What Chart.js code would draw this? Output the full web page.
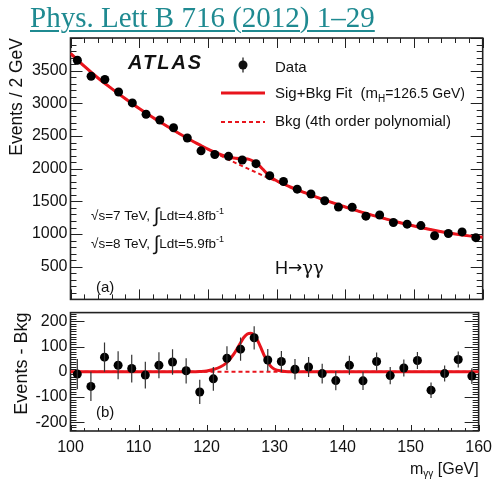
<!DOCTYPE html>
<html>
<head>
<meta charset="utf-8">
<script src="https://cdn.jsdelivr.net/npm/chart.js@4.4.1/dist/chart.umd.min.js"></script>
<style>
  body { margin: 0; background: #fff; width: 499px; height: 479px; overflow: hidden; position: relative; }
  #ref { position: absolute; left: 30px; top: 3px; font: 29px/29px "Liberation Serif", "Times New Roman", serif;
         color: #1f8a91; text-decoration: underline; text-decoration-thickness: 2px; text-underline-offset: 3px; white-space: nowrap; }
  #topChart { position: absolute; left: 0; top: 0; }
  #bottomChart { position: absolute; left: 0; top: 300px; }
</style>
</head>
<body>
<canvas id="topChart" width="499" height="312"></canvas>
<canvas id="bottomChart" width="499" height="179"></canvas>
<div id="ref">Phys. Lett B 716 (2012) 1–29</div>
<script>
const massBins = [101, 103, 105, 107, 109, 111, 113, 115, 117, 119, 121, 123, 125, 127, 129,
                  131, 133, 135, 137, 139, 141, 143, 145, 147, 149, 151, 153, 155, 157, 159];
const eventCounts = [3660, 3414, 3365, 3173, 3007, 2834, 2745, 2627, 2469, 2273, 2218, 2189, 2133, 2077, 1894,
                     1805, 1687, 1613, 1510, 1413, 1410, 1274, 1292, 1176, 1151, 1129, 974, 1008, 1033, 945];
const eventErrors = [60, 58, 58, 56, 55, 53, 52, 51, 50, 48, 47, 47, 46, 46, 44,
                     42, 41, 40, 39, 38, 38, 36, 36, 34, 34, 34, 31, 32, 32, 31];
const residuals = [-9, -58, 58, 26, 13, -13, 26, 39, 4, -80, -28, 54, 90, 135, 47,
                   41, 10, 19, -7, -35, 26, -36, 41, -15, 15, 45, -73, -7, 49, -17];

// background fit (4th order polynomial)
const bkgMass = [100, 102, 104, 106, 108, 110, 112, 114, 116, 118, 120, 122, 124, 126, 128, 130,
                 132, 134, 136, 138, 140, 142, 144, 146, 148, 150, 152, 154, 156, 158, 160];
const bkgValues = [3765, 3568, 3388, 3226, 3070, 2920, 2782, 2652, 2526, 2408, 2298, 2192, 2090, 1992, 1896, 1806,
                   1720, 1637, 1558, 1484, 1414, 1348, 1286, 1228, 1174, 1124, 1078, 1036, 1000, 972, 952];

// signal + background fit
const fitMass = [100, 102, 104, 106, 108, 110, 112, 114, 116, 118, 119, 120, 121, 122, 123, 124, 125, 125.5,
                 126, 126.5, 127, 127.5, 128, 128.5, 129, 129.5, 130, 131, 132, 134, 136, 138, 140, 142,
                 144, 146, 148, 150, 152, 154, 156, 158, 160];
const fitValues = [3765, 3568, 3388, 3226, 3070, 2920, 2782, 2652, 2526, 2408, 2354, 2301, 2254, 2211, 2178, 2160, 2156, 2153,
                   2142, 2121, 2089, 2044, 1991, 1936, 1889, 1848, 1816, 1766, 1720, 1637, 1558, 1484, 1414, 1348,
                   1286, 1228, 1174, 1124, 1078, 1036, 1000, 972, 952];

// signal component shown in the lower panel
const sigMass = [100, 118, 119, 120, 121, 122, 123, 124, 125, 125.5, 126, 126.5, 127, 127.5, 128, 128.5,
                 129, 129.5, 130, 131, 132, 134, 160];
const sigValues = [0, 0, 1, 3, 9, 19, 37, 70, 115, 137, 150, 153, 145, 124, 95, 63,
                   38, 20, 10, 3, 0, 0, 0];

const topTicks = [500, 1000, 1500, 2000, 2500, 3000, 3500];
const bottomTicks = [-200, -100, 0, 100, 200];
const massTicks = [100, 110, 120, 130, 140, 150, 160];

const FONT = '"Liberation Sans", Arial, sans-serif';
const RED = '#e8141c';

const pts = (xs, ys) => xs.map((x, i) => ({ x, y: ys[i] }));

function drawRuns(ctx, x, y, runs) {
  for (const [text, size, dy, style, family] of runs) {
    ctx.font = `${style || ''} ${size}px ${family || FONT}`;
    ctx.fillText(text, x, y + (dy || 0));
    x += ctx.measureText(text).width;
  }
  return x;
}

function runsWidth(ctx, runs) {
  let w = 0;
  for (const [text, size, , style, family] of runs) {
    ctx.font = `${style || ''} ${size}px ${family || FONT}`;
    w += ctx.measureText(text).width;
  }
  return w;
}

// ROOT-like frame with inward ticks
const frameTicks = {
  id: 'frameTicks',
  beforeDatasetsDraw(chart, args, o) {
    const { ctx, chartArea: a, scales: { x, y } } = chart;
    ctx.save();
    ctx.strokeStyle = '#222';
    ctx.lineWidth = 1;
    ctx.beginPath();
    for (let k = Math.ceil(x.min / o.xMinor); k * o.xMinor <= x.max + 1e-9; k++) {
      const v = k * o.xMinor, px = Math.round(x.getPixelForValue(v)) + 0.5;
      const len = Math.abs(v / o.xMajor - Math.round(v / o.xMajor)) < 1e-6 ? o.xMajLen : o.xMinLen;
      if (o.topEdge) { ctx.moveTo(px, a.top); ctx.lineTo(px, a.top + len); }
      ctx.moveTo(px, a.bottom); ctx.lineTo(px, a.bottom - len);
    }
    for (let k = Math.ceil(y.min / o.yMinor); k * o.yMinor <= y.max + 1e-9; k++) {
      const v = k * o.yMinor, py = Math.round(y.getPixelForValue(v)) + 0.5;
      const len = Math.abs(v / o.yMajor - Math.round(v / o.yMajor)) < 1e-6 ? o.yMajLen : o.yMinLen;
      ctx.moveTo(a.left, py); ctx.lineTo(a.left + len, py);
      ctx.moveTo(a.right, py); ctx.lineTo(a.right - len, py);
    }
    ctx.stroke();
    ctx.lineWidth = 1.6;
    ctx.strokeRect(a.left, a.top, a.right - a.left, a.bottom - a.top);
    ctx.restore();
  }
};

const errorBars = {
  id: 'errorBars',
  afterDatasetsDraw(chart, args, o) {
    const { ctx, scales: { x, y } } = chart;
    ctx.save();
    ctx.strokeStyle = o.color;
    ctx.lineWidth = 1.2;
    ctx.beginPath();
    o.values.forEach((v, i) => {
      const px = x.getPixelForValue(massBins[i]);
      ctx.moveTo(px, y.getPixelForValue(v - eventErrors[i]));
      ctx.lineTo(px, y.getPixelForValue(v + eventErrors[i]));
    });
    ctx.stroke();
    ctx.restore();
  }
};

const topNotes = {
  id: 'topNotes',
  afterDraw(chart) {
    const ctx = chart.ctx;
    ctx.save();
    ctx.fillStyle = '#111';
    ctx.textBaseline = 'alphabetic';
    ctx.textAlign = 'left';
    ctx.letterSpacing = '2px';
    drawRuns(ctx, 128, 68.5, [['ATLAS', 20, 0, 'italic bold']]);
    ctx.letterSpacing = '0px';

    // legend
    ctx.beginPath();
    ctx.arc(243, 65, 4.5, 0, Math.PI * 2);
    ctx.fill();
    ctx.strokeStyle = '#111';
    ctx.lineWidth = 1.2;
    ctx.beginPath();
    ctx.moveTo(243, 57.5); ctx.lineTo(243, 72.5);
    ctx.stroke();
    drawRuns(ctx, 275, 71.5, [['Data', 15]]);

    ctx.strokeStyle = RED;
    ctx.lineWidth = 3;
    ctx.beginPath();
    ctx.moveTo(221, 93); ctx.lineTo(265, 93);
    ctx.stroke();
    drawRuns(ctx, 275, 97.5, [['Sig+Bkg Fit  (m', 15], ['H', 10, 4], ['=126.5 GeV)', 14]]);

    ctx.lineWidth = 2;
    ctx.setLineDash([4, 3]);
    ctx.beginPath();
    ctx.moveTo(221, 122); ctx.lineTo(265, 122);
    ctx.stroke();
    ctx.setLineDash([]);
    drawRuns(ctx, 275, 125.5, [['Bkg (4th order polynomial)', 15]]);

    // energy / luminosity
    drawRuns(ctx, 91, 219.5, [['√s=7 TeV, ', 13.5], ['∫', 20, 2], ['Ldt=4.8fb', 13.5], ['-1', 9, -6]]);
    drawRuns(ctx, 91, 248, [['√s=8 TeV, ', 13.5], ['∫', 20, 2], ['Ldt=5.9fb', 13.5], ['-1', 9, -6]]);

    drawRuns(ctx, 96, 292, [['(a)', 15]]);
    drawRuns(ctx, 275, 274, [['H', 18], ['→', 17, -1, '', '"DejaVu Sans", sans-serif'], ['γγ', 18, 0, '', '"DejaVu Serif", serif']]);
    ctx.restore();
  }
};

const bottomNotes = {
  id: 'bottomNotes',
  afterDraw(chart) {
    const ctx = chart.ctx;
    ctx.save();
    ctx.fillStyle = '#111';
    ctx.textBaseline = 'alphabetic';
    drawRuns(ctx, 96, 117, [['(b)', 15]]);
    const title = [['m', 16], ['γγ', 10, 3], [' [GeV]', 16]];
    const w = runsWidth(ctx, title);
    drawRuns(ctx, chart.chartArea.right - w, 174, title);
    ctx.restore();
  }
};

const common = {
  responsive: false,
  animation: false,
  events: [],
  plugins: { legend: { display: false }, tooltip: { enabled: false } }
};

new Chart(document.getElementById('topChart'), {
  type: 'scatter',
  data: {
    datasets: [
      { data: pts(massBins, eventCounts), pointRadius: 4.5, pointBackgroundColor: '#000', pointBorderWidth: 0 },
      { data: pts(fitMass, fitValues), showLine: true, borderColor: RED, borderWidth: 3, pointRadius: 0,
        cubicInterpolationMode: 'monotone' },
      { data: pts(bkgMass, bkgValues), showLine: true, borderColor: RED, borderWidth: 2, borderDash: [4, 3],
        pointRadius: 0, cubicInterpolationMode: 'monotone' }
    ]
  },
  options: {
    ...common,
    layout: { padding: { top: 38, right: 16.3, bottom: 3, left: 0 } },
    plugins: {
      ...common.plugins,
      frameTicks: { xMajor: 10, xMinor: 2, xMajLen: 10, xMinLen: 5, yMajor: 500, yMinor: 100, yMajLen: 12, yMinLen: 6, topEdge: true },
      errorBars: { values: eventCounts, color: '#000' }
    },
    scales: {
      x: { type: 'linear', min: 100, max: 160, display: false },
      y: {
        type: 'linear', min: 0, max: 4000,
        afterFit: s => { s.width = 70.5; },
        grid: { display: false, drawTicks: false },
        border: { display: false },
        afterBuildTicks: s => { s.ticks = [0, ...topTicks, 4000].map(v => ({ value: v })); },
        ticks: { autoSkip: false, padding: 3, color: '#111', font: { family: FONT, size: 16 },
                 callback: v => topTicks.includes(v) ? String(v) : '' },
        title: { display: true, text: 'Events / 2 GeV', align: 'end', color: '#111',
                 font: { family: FONT, size: 17.5 }, padding: { top: 7, bottom: 0 } }
      }
    }
  },
  plugins: [frameTicks, errorBars, topNotes]
});

new Chart(document.getElementById('bottomChart'), {
  type: 'scatter',
  data: {
    datasets: [
      { data: pts(massBins, residuals), pointRadius: 4.5, pointBackgroundColor: '#000', pointBorderWidth: 0 },
      { data: pts(sigMass, sigValues), showLine: true, borderColor: RED, borderWidth: 3, pointRadius: 0,
        cubicInterpolationMode: 'monotone' },
      { data: pts([100, 160], [0, 0]), showLine: true, borderColor: RED, borderWidth: 2, borderDash: [4, 3], pointRadius: 0 }
    ]
  },
  options: {
    ...common,
    layout: { padding: { top: 9, right: 16.3, bottom: 0, left: 0 } },
    plugins: {
      ...common.plugins,
      frameTicks: { xMajor: 10, xMinor: 2, xMajLen: 6, xMinLen: 3, yMajor: 100, yMinor: 10, yMajLen: 14, yMinLen: 6, topEdge: false },
      errorBars: { values: residuals, color: '#333' }
    },
    scales: {
      x: {
        type: 'linear', min: 100, max: 160,
        afterFit: s => { s.height = 48; },
        grid: { display: false, drawTicks: false },
        border: { display: false },
        afterBuildTicks: s => { s.ticks = massTicks.map(v => ({ value: v })); },
        ticks: { autoSkip: false, maxRotation: 0, padding: 7, color: '#111', font: { family: FONT, size: 16 },
                 callback: v => String(v) }
      },
      y: {
        type: 'linear', min: -235, max: 235,
        afterFit: s => { s.width = 70.5; },
        grid: { display: false, drawTicks: false },
        border: { display: false },
        afterBuildTicks: s => { s.ticks = bottomTicks.map(v => ({ value: v })); },
        ticks: { autoSkip: false, padding: 3, color: '#111', font: { family: FONT, size: 16 },
                 callback: v => String(v) },
        title: { display: true, text: 'Events - Bkg', align: 'end', color: '#111',
                 font: { family: FONT, size: 18 }, padding: { top: 11, bottom: 0 } }
      }
    }
  },
  plugins: [frameTicks, errorBars, bottomNotes]
});
</script>
</body>
</html>
